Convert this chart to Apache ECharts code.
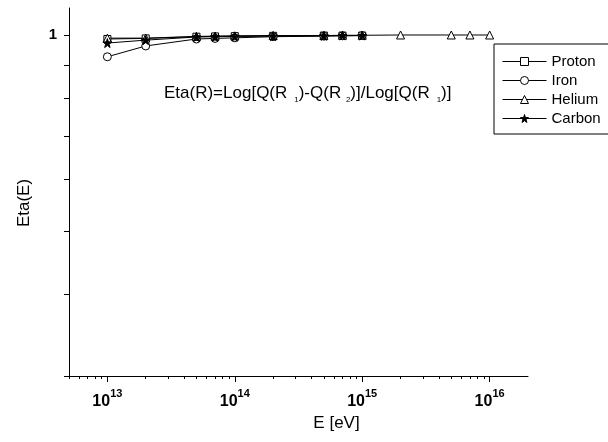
<!DOCTYPE html>
<html>
<head>
<meta charset="utf-8">
<script src="https://cdn.jsdelivr.net/npm/echarts@6/dist/echarts.min.js"></script>
<style>
html, body { margin: 0; padding: 0; background: #fff; }
#main { width: 608px; height: 442px; }
</style>
</head>
<body>
<div id="main"></div>
<script>
// energies in eV
const energies = [1e13, 2e13, 5e13, 7e13, 1e14, 2e14, 5e14, 7e14, 1e15, 2e15, 5e15, 7e15, 1e16]
const proton = [0.986, 0.988, 0.994, 0.995, 0.996, 0.997, 0.998, 0.998, 0.998]
const iron = [0.926, 0.962, 0.986, 0.988, 0.990, 0.994, 0.996, 0.997, 0.998]
const helium = [0.989, 0.989, 0.995, 0.996, 0.997, 0.998, 0.998, 0.999, 0.999, 1.0, 1.0, 1.0, 1.0]
const carbon = [0.972, 0.982, 0.993, 0.994, 0.995, 0.996, 0.997, 0.998, 0.998]

const xMajorTicks = [1e13, 1e14, 1e15, 1e16]
const yTicks = [0.3, 0.4, 0.5, 0.6, 0.7, 0.8, 0.9, 1]
const yLabels = [1]

// minor ticks 2..9 in each decade, inside the axis range
const xMinorTicks = []
for (let d = 12; d <= 16; d++) {
  for (let m = 2; m <= 9; m++) {
    const v = m * Math.pow(10, d)
    if (v >= 5e12 && v <= 2e16) xMinorTicks.push(v)
  }
}

const font = 'Liberation Sans, Arial, sans-serif'
const star = 'path://M50,0 L61,35 L98,35 L68,57 L79,91 L50,70 L21,91 L32,57 L2,35 L39,35 Z'

function pairs (vals) {
  return vals.map((v, i) => [energies[i], v])
}

function makeSeries (name, vals, symbol, size, fill) {
  return {
    name: name,
    type: 'line',
    data: pairs(vals),
    symbol: symbol,
    symbolSize: size,
    showAllSymbol: true,
    lineStyle: { color: '#000', width: 1 },
    itemStyle: { color: fill, borderColor: '#000', borderWidth: 1 },
    emphasis: { disabled: true },
    animation: false
  }
}

let chart = echarts.init(document.getElementById('main'))
chart.setOption({
  animation: false,
  textStyle: { fontFamily: font, color: '#000' },
  grid: { left: 69, right: 80, top: 8, bottom: 66 },
  title: {
    left: 159,
    top: 77,
    text: 'Eta(R)=Log[Q(R {s| 1})-Q(R {s|2})]/Log[Q(R {s| 1})]',
    textStyle: {
      fontFamily: font,
      fontSize: 17,
      fontWeight: 'normal',
      color: '#000',
      lineHeight: 22,
      rich: {
        s: { fontSize: 8, fontFamily: font, verticalAlign: 'bottom', lineHeight: 10, padding: [10, 0, 0, 0] }
      }
    }
  },
  legend: {
    left: 494,
    top: 44,
    orient: 'vertical',
    borderColor: '#000',
    borderWidth: 1,
    padding: [10, 20, 8, 8],
    itemWidth: 44,
    itemHeight: 10,
    itemGap: 4,
    lineStyle: { width: 1 },
    itemStyle: { borderWidth: 1 },
    textStyle: { fontFamily: font, fontSize: 15, color: '#000' },
    data: ['Proton', 'Iron', 'Helium', 'Carbon']
  },
  xAxis: [
    {
      type: 'log',
      min: 5e12,
      max: 2e16,
      position: 'bottom',
      name: 'E [eV]',
      nameLocation: 'middle',
      nameGap: 28,
      nameTextStyle: { fontFamily: font, fontSize: 17, padding: [0, 0, 0, 76] },
      axisLine: { lineStyle: { color: '#000', width: 1 } },
      axisTick: { customValues: xMajorTicks, length: 6, lineStyle: { color: '#000' } },
      axisLabel: {
        customValues: xMajorTicks,
        margin: 12,
        formatter: function (v) {
          return '{b|10}{s|' + Math.round(Math.log10(v)) + '}'
        },
        rich: {
          b: { fontFamily: font, fontSize: 16, fontWeight: 'bold', lineHeight: 22, verticalAlign: 'bottom' },
          s: { fontFamily: font, fontSize: 11, fontWeight: 'bold', lineHeight: 11, verticalAlign: 'top' }
        }
      },
      splitLine: { show: false }
    },
    {
      type: 'log',
      min: 5e12,
      max: 2e16,
      position: 'bottom',
      axisLine: { show: false },
      axisTick: { customValues: xMinorTicks, length: 3, lineStyle: { color: '#000' } },
      axisLabel: { show: false },
      splitLine: { show: false }
    }
  ],
  yAxis: {
    type: 'log',
    min: 0.3,
    max: 1.1,
    name: 'Eta(E)',
    nameLocation: 'middle',
    nameGap: 36,
    nameTextStyle: { fontFamily: font, fontSize: 17, padding: [0, 22, 0, 0] },
    axisLine: { show: true, lineStyle: { color: '#000', width: 1 } },
    axisTick: { customValues: yTicks, length: 5, lineStyle: { color: '#000' } },
    axisLabel: {
      customValues: yLabels,
      margin: 12,
      fontFamily: font,
      fontSize: 15,
      fontWeight: 'bold',
      color: '#000'
    },
    splitLine: { show: false }
  },
  series: [
    makeSeries('Proton', proton, 'rect', 7, '#fff'),
    makeSeries('Iron', iron, 'circle', 8, '#fff'),
    makeSeries('Helium', helium, 'triangle', 8, '#fff'),
    makeSeries('Carbon', carbon, star, 9, '#000')
  ]
})
</script>
</body>
</html>
